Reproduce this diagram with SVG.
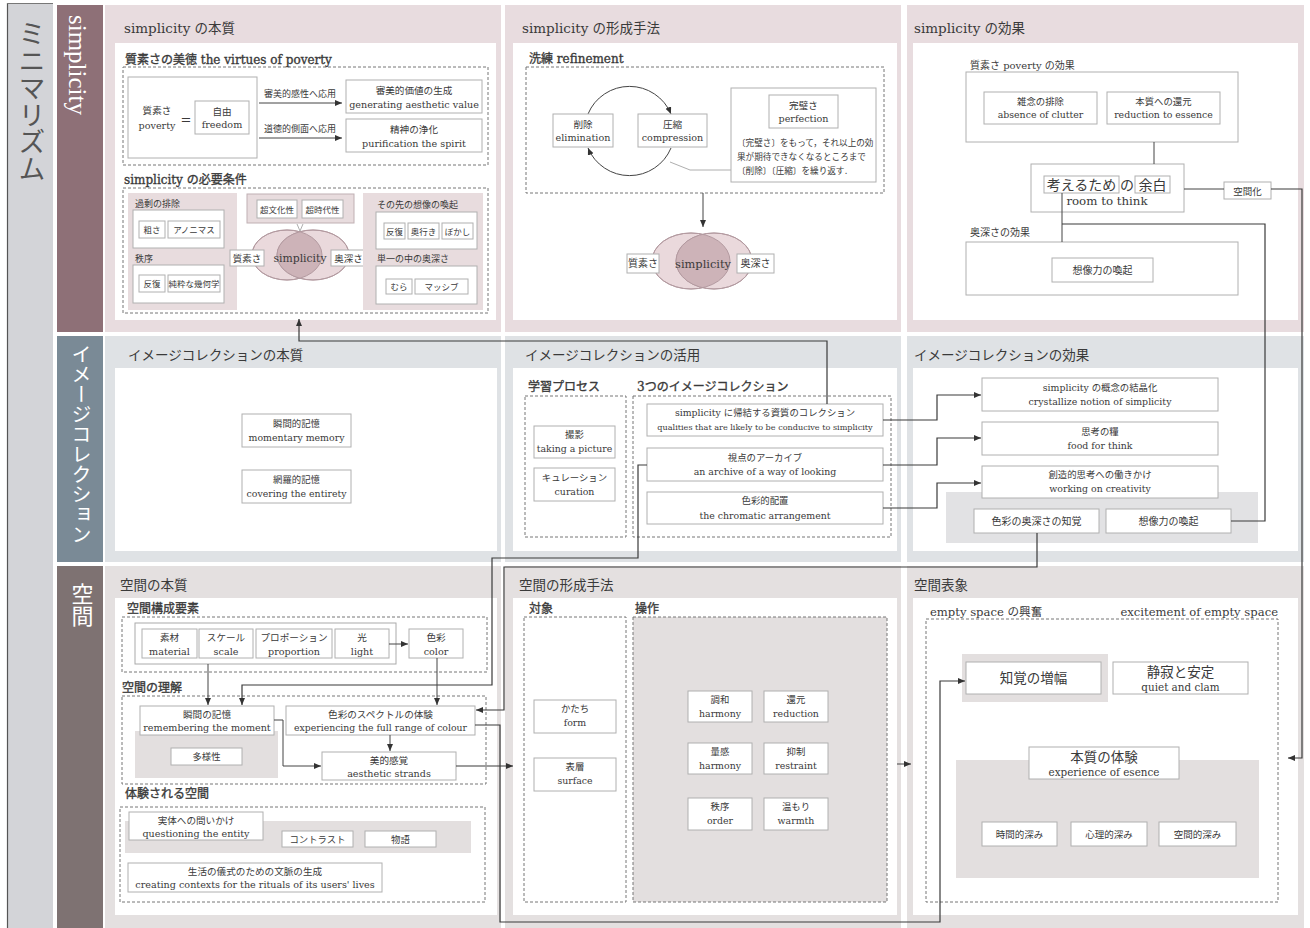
<svg xmlns="http://www.w3.org/2000/svg" width="1310" height="928" viewBox="0 0 1310 928">
<defs>
<style>
text{font-family:"DejaVu Serif","Noto Sans CJK JP",serif;fill:#3a3a3a}
.c{text-anchor:middle}
.b{fill:#fff;stroke:#b0b0b0;stroke-width:1}
.d{fill:none;stroke:#777;stroke-width:1;stroke-dasharray:3 2}
.g1{fill:#e8dcde}
.g2{fill:#e2e2e4}
.g3{fill:#e3dfdf}
.w{fill:#fff}
.con{fill:none;stroke:#3a3a3a;stroke-width:1.2}
.thin{fill:none;stroke:#444;stroke-width:1}
.h1{font-size:13.5px}
.h2{font-size:12px;stroke:#3a3a3a;stroke-width:0.35}
.s{font-size:9.4px}
.xs{font-size:9px}
.m{font-size:9.6px}
</style>
<marker id="ar" markerUnits="userSpaceOnUse" markerWidth="8" markerHeight="8" refX="7" refY="3" orient="auto"><path d="M0,0 L7,3 L0,6 z" fill="#333"/></marker>
<clipPath id="cl1"><ellipse cx="287" cy="255" rx="35" ry="25"/></clipPath>
<clipPath id="cl2"><ellipse cx="691" cy="261" rx="39" ry="28"/></clipPath>
</defs>
<rect width="1310" height="928" fill="#fff"/>

<g id="side">
<rect x="7" y="3" width="46" height="925" fill="#d3d4d8"/>
<line x1="7.5" y1="3" x2="7.5" y2="928" stroke="#555" stroke-width="1.2"/>
<line x1="7" y1="3.5" x2="53" y2="3.5" stroke="#777" stroke-width="1"/>
<text x="30" y="20" font-size="27" style="writing-mode:vertical-rl;fill:#555">ミニマリズム</text>
<rect x="57" y="5" width="46" height="327" fill="#8e7077"/>
<text transform="translate(69,15) rotate(90)" font-size="25" style="fill:#fff;font-family:'Liberation Serif',serif">simplicity</text>
<rect x="57" y="336" width="46" height="226" fill="#7a8a96"/>
<text x="80" y="344" font-size="20" style="writing-mode:vertical-rl;fill:#fff">イメージコレクション</text>
<rect x="57" y="566" width="46" height="362" fill="#7e7272"/>
<text x="80" y="583" font-size="22" style="writing-mode:vertical-rl;fill:#fff">空間</text>
</g>

<g id="panels">
<rect x="105" y="5" width="396" height="327" fill="#e8dcdf"/>
<rect x="505" y="5" width="396" height="327" fill="#e8dcdf"/>
<rect x="907" y="5" width="397" height="327" fill="#e8dcdf"/>
<rect x="105" y="336" width="396" height="226" fill="#dfe2e5"/>
<rect x="505" y="336" width="396" height="226" fill="#dfe2e5"/>
<rect x="907" y="336" width="397" height="226" fill="#dfe2e5"/>
<rect x="105" y="566" width="396" height="362" fill="#e4e0e0"/>
<rect x="505" y="566" width="396" height="362" fill="#e4e0e0"/>
<rect x="907" y="566" width="397" height="362" fill="#e4e0e0"/>
<rect x="115" y="43" width="381" height="277" class="w"/>
<rect x="513" y="43" width="384" height="277" class="w"/>
<rect x="913" y="43" width="385" height="277" class="w"/>
<rect x="115" y="368" width="382" height="183" class="w"/>
<rect x="513" y="368" width="384" height="183" class="w"/>
<rect x="913" y="368" width="385" height="183" class="w"/>
<rect x="115" y="598" width="382" height="317" class="w"/>
<rect x="513" y="598" width="384" height="317" class="w"/>
<rect x="913" y="598" width="385" height="317" class="w"/>
</g>

<g id="simplicity-essence">
<text x="124" y="33" class="h1">simplicity の本質</text>
<text x="125" y="64" class="h2">質素さの美徳 the virtues of poverty</text>
<rect x="123" y="67" width="365" height="98" class="d"/>
<rect x="128" y="77" width="129" height="81" class="b"/>
<text x="157" y="114" class="c m">質素さ</text>
<text x="157" y="129" class="c m">poverty</text>
<text x="186" y="124" class="c" font-size="13">=</text>
<rect x="195" y="101" width="54" height="33" class="b"/>
<text x="222" y="115" class="c m">自由</text>
<text x="222" y="128" class="c m">freedom</text>
<text x="300" y="97" class="c" font-size="9">審美的感性へ応用</text>
<text x="300" y="132" class="c" font-size="9">道徳的側面へ応用</text>
<rect x="346" y="80" width="136" height="33" class="b"/>
<text x="414" y="94" class="c m">審美的価値の生成</text>
<text x="414" y="108" class="c m">generating aesthetic value</text>
<rect x="346" y="119" width="136" height="33" class="b"/>
<text x="414" y="133" class="c m">精神の浄化</text>
<text x="414" y="147" class="c m">purification the spirit</text>

<text x="124" y="184" class="h2">simplicity の必要条件</text>
<rect x="123" y="188" width="365" height="125" class="d"/>
<rect x="128" y="193" width="109" height="117" class="g1"/>
<text x="135" y="207" class="xs">過剰の排除</text>
<rect x="133" y="210" width="91" height="38" class="b"/>
<rect x="139" y="221" width="26" height="17" class="b"/>
<text x="152" y="233" class="c" font-size="8.5">粗さ</text>
<rect x="168" y="221" width="52" height="17" class="b"/>
<text x="194" y="233" class="c" font-size="8.5">アノニマス</text>
<text x="135" y="262" class="xs">秩序</text>
<rect x="133" y="265" width="91" height="38" class="b"/>
<rect x="139" y="275" width="26" height="17" class="b"/>
<text x="152" y="287" class="c" font-size="8.5">反復</text>
<rect x="168" y="275" width="52" height="17" class="b"/>
<text x="194" y="287" class="c" font-size="8.5">純粋な幾何学</text>

<rect x="247" y="194" width="107" height="29" class="g1" stroke="#c0b0b3"/>
<rect x="257" y="200" width="40" height="18" class="b"/>
<text x="277" y="213" class="c" font-size="8.5">超文化性</text>
<rect x="302" y="200" width="41" height="18" class="b"/>
<text x="322.5" y="213" class="c" font-size="8.5">超時代性</text>
<polyline points="297,224 300,231 303,224" fill="none" stroke="#999" stroke-width="0.8"/>
<ellipse cx="287" cy="255" rx="35" ry="25" fill="#ead9dc" stroke="#b39aa0"/>
<ellipse cx="313" cy="255" rx="36" ry="25" fill="#ead9dc" stroke="#b39aa0"/>
<ellipse cx="313" cy="255" rx="36" ry="25" fill="#cdb3b8" clip-path="url(#cl1)"/>
<ellipse cx="287" cy="255" rx="35" ry="25" fill="none" stroke="#b39aa0"/>
<ellipse cx="313" cy="255" rx="36" ry="25" fill="none" stroke="#b39aa0"/>
<rect x="230" y="250" width="34" height="16" class="b"/>
<text x="247" y="262" class="c" font-size="9.5">質素さ</text>
<text x="300" y="262" class="c" font-size="10.8">simplicity</text>
<rect x="331" y="250" width="35" height="16" class="b"/>
<text x="348.5" y="262" class="c" font-size="9.5">奥深さ</text>

<rect x="363" y="193" width="120" height="117" class="g1"/>
<text x="377" y="208" class="xs">その先の想像の喚起</text>
<rect x="376" y="212" width="101" height="37" class="b"/>
<rect x="384" y="223" width="21" height="16" class="b"/>
<text x="394.5" y="235" class="c" font-size="8.5">反復</text>
<rect x="408" y="223" width="31" height="16" class="b"/>
<text x="423.5" y="235" class="c" font-size="8.5">奥行き</text>
<rect x="442" y="223" width="31" height="16" class="b"/>
<text x="457.5" y="235" class="c" font-size="8.5">ぼかし</text>
<text x="377" y="262" class="xs">単一の中の奥深さ</text>
<rect x="376" y="266" width="101" height="38" class="b"/>
<rect x="386" y="279" width="26" height="15" class="b"/>
<text x="399" y="290" class="c" font-size="8.5">むら</text>
<rect x="415" y="279" width="53" height="15" class="b"/>
<text x="441.5" y="290" class="c" font-size="8.5">マッシブ</text>
</g>

<g id="simplicity-method">
<text x="522" y="33" class="h1">simplicity の形成手法</text>
<text x="529" y="63" class="h2">洗練 refinement</text>
<rect x="526" y="67" width="358" height="126" class="d"/>
<path d="M588,114 A45,45 0 0 1 671,114" class="thin" marker-end="url(#ar)"/>
<path d="M671,148 A45,45 0 0 1 588,148" class="thin" marker-end="url(#ar)"/>
<rect x="553" y="114" width="60" height="33" class="b"/>
<text x="583" y="128" class="c m">削除</text>
<text x="583" y="141" class="c m">elimination</text>
<rect x="638" y="114" width="69" height="33" class="b"/>
<text x="672.5" y="128" class="c m">圧縮</text>
<text x="672.5" y="141" class="c m">compression</text>
<polyline points="670,162 690,170 731,170" fill="none" stroke="#999" stroke-width="0.8"/>
<rect x="731" y="88" width="145" height="94" class="b"/>
<rect x="769" y="95" width="69" height="33" class="b"/>
<text x="803.5" y="109" class="c m">完璧さ</text>
<text x="803.5" y="122" class="c m">perfection</text>
<text x="737" y="146" font-size="8.6">〔完璧さ〕をもって，それ以上の効</text>
<text x="737" y="160" font-size="8.6">果が期待できなくなるところまで</text>
<text x="737" y="174" font-size="8.6">〔削除〕〔圧縮〕を繰り返す．</text>
<ellipse cx="691" cy="261" rx="39" ry="28" fill="#ead9dc" stroke="#b39aa0"/>
<ellipse cx="714" cy="261" rx="38" ry="28" fill="#ead9dc" stroke="#b39aa0"/>
<ellipse cx="714" cy="261" rx="38" ry="28" fill="#cdb3b8" clip-path="url(#cl2)"/>
<ellipse cx="691" cy="261" rx="39" ry="28" fill="none" stroke="#b39aa0"/>
<ellipse cx="714" cy="261" rx="38" ry="28" fill="none" stroke="#b39aa0"/>
<rect x="627" y="254" width="32" height="19" class="b"/>
<text x="643" y="267" class="c" font-size="10">質素さ</text>
<text x="703" y="268" class="c" font-size="11.4">simplicity</text>
<rect x="737" y="254" width="37" height="19" class="b"/>
<text x="755.5" y="267" class="c" font-size="10">奥深さ</text>
</g>

<g id="simplicity-effect">
<text x="914" y="33" class="h1">simplicity の効果</text>
<text x="970" y="69" font-size="10">質素さ poverty の効果</text>
<rect x="966" y="72" width="272" height="70" class="b"/>
<rect x="984" y="92" width="113" height="32" class="b"/>
<text x="1040.5" y="105" class="c s">雑念の排除</text>
<text x="1040.5" y="118" class="c s">absence of clutter</text>
<rect x="1107" y="92" width="113" height="32" class="b"/>
<text x="1163.5" y="105" class="c s">本質への還元</text>
<text x="1163.5" y="118" class="c s">reduction to essence</text>
<rect x="1031" y="164" width="153" height="48" class="b"/>
<rect x="1044" y="176" width="75" height="17" class="b"/>
<text x="1081.5" y="190" class="c" font-size="14">考えるため</text>
<text x="1127" y="190" class="c" font-size="14">の</text>
<rect x="1135" y="176" width="35" height="17" class="b"/>
<text x="1152.5" y="190" class="c" font-size="14">余白</text>
<text x="1107" y="205" class="c" font-size="11.8">room to think</text>
<rect x="1224" y="182" width="47" height="17" class="b"/>
<text x="1247.5" y="194.5" class="c" font-size="9.5">空間化</text>
<text x="970" y="236" font-size="10">奥深さの効果</text>
<rect x="966" y="242" width="272" height="53" class="b"/>
<rect x="1052" y="258" width="101" height="24" class="b"/>
<text x="1102.5" y="274" class="c" font-size="10">想像力の喚起</text>
</g>

<g id="ic-essence">
<text x="128" y="360" class="h1">イメージコレクションの本質</text>
<rect x="242" y="414" width="109" height="33" class="b"/>
<text x="296.5" y="427" class="c s">瞬間的記憶</text>
<text x="296.5" y="441" class="c s">momentary memory</text>
<rect x="242" y="470" width="109" height="33" class="b"/>
<text x="296.5" y="483" class="c s">網羅的記憶</text>
<text x="296.5" y="497" class="c s">covering the entirety</text>
</g>

<g id="ic-use">
<text x="525" y="360" class="h1">イメージコレクションの活用</text>
<text x="528" y="391" class="h2">学習プロセス</text>
<text x="637" y="391" class="h2">3つのイメージコレクション</text>
<rect x="525" y="396" width="101" height="141" class="d"/>
<rect x="633" y="396" width="258" height="141" class="d"/>
<rect x="534" y="426" width="81" height="32" class="b"/>
<text x="574.5" y="438" class="c s">撮影</text>
<text x="574.5" y="452" class="c s">taking a picture</text>
<rect x="534" y="468" width="81" height="33" class="b"/>
<text x="574.5" y="481" class="c s">キュレーション</text>
<text x="574.5" y="495" class="c s">curation</text>
<rect x="647" y="404" width="236" height="32" class="b"/>
<text x="765" y="416" class="c s">simplicity に帰結する資質のコレクション</text>
<text x="765" y="430" class="c" font-size="8.1">qualities that are likely to be conducive to simplicity</text>
<rect x="647" y="448" width="236" height="33" class="b"/>
<text x="765" y="461" class="c s">視点のアーカイブ</text>
<text x="765" y="475" class="c s">an archive of a way of looking</text>
<rect x="647" y="492" width="236" height="32" class="b"/>
<text x="765" y="504" class="c s">色彩的配置</text>
<text x="765" y="519" class="c s">the chromatic arrangement</text>
</g>

<g id="ic-effect">
<text x="914" y="360" class="h1">イメージコレクションの効果</text>
<rect x="946" y="492" width="312" height="51" class="g2"/>
<rect x="982" y="378" width="236" height="33" class="b"/>
<text x="1100" y="391" class="c s">simplicity の概念の結晶化</text>
<text x="1100" y="405" class="c s">crystallize notion of simplicity</text>
<rect x="982" y="422" width="236" height="33" class="b"/>
<text x="1100" y="435" class="c s">思考の糧</text>
<text x="1100" y="449" class="c s">food for think</text>
<rect x="982" y="466" width="236" height="32" class="b"/>
<text x="1100" y="478" class="c s">創造的思考への働きかけ</text>
<text x="1100" y="492" class="c s">working on creativity</text>
<rect x="974" y="509" width="125" height="24" class="b"/>
<text x="1036.5" y="525" class="c" font-size="10">色彩の奥深さの知覚</text>
<rect x="1106" y="509" width="125" height="24" class="b"/>
<text x="1168.5" y="525" class="c" font-size="10">想像力の喚起</text>
</g>

<g id="space-essence">
<text x="120" y="590" class="h1">空間の本質</text>
<text x="127" y="613" class="h2">空間構成要素</text>
<rect x="122" y="617" width="365" height="55" class="d"/>
<rect x="135" y="623" width="261" height="41" fill="none" stroke="#aaa"/>
<rect x="142" y="629" width="55" height="29" class="b"/>
<text x="169.5" y="641" class="c m">素材</text>
<text x="169.5" y="655" class="c m">material</text>
<rect x="199" y="629" width="54" height="29" class="b"/>
<text x="226" y="641" class="c m">スケール</text>
<text x="226" y="655" class="c m">scale</text>
<rect x="256" y="629" width="76" height="29" class="b"/>
<text x="294" y="641" class="c m">プロポーション</text>
<text x="294" y="655" class="c m">proportion</text>
<rect x="335" y="629" width="54" height="29" class="b"/>
<text x="362" y="641" class="c m">光</text>
<text x="362" y="655" class="c m">light</text>
<rect x="409" y="629" width="54" height="29" class="b"/>
<text x="436" y="641" class="c m">色彩</text>
<text x="436" y="655" class="c m">color</text>
<text x="122" y="692" class="h2">空間の理解</text>
<rect x="122" y="696" width="364" height="88" class="d"/>
<rect x="135" y="731" width="143" height="47" class="g3"/>
<rect x="140" y="706" width="134" height="29" class="b"/>
<text x="207" y="718" class="c m">瞬間の記憶</text>
<text x="207" y="731" class="c m">remembering the moment</text>
<rect x="171" y="748" width="71" height="17" class="b"/>
<text x="206.5" y="760" class="c s">多様性</text>
<rect x="286" y="706" width="189" height="29" class="b"/>
<text x="380.5" y="718" class="c m">色彩のスペクトルの体験</text>
<text x="380.5" y="731" class="c" font-size="9.3">experiencing the full range of  colour</text>
<rect x="322" y="752" width="134" height="28" class="b"/>
<text x="389" y="764" class="c m">美的感覚</text>
<text x="389" y="777" class="c m">aesthetic strands</text>
<text x="125" y="798" class="h2">体験される空間</text>
<rect x="120" y="807" width="365" height="95" class="d"/>
<rect x="125" y="821" width="346" height="32" class="g3"/>
<rect x="129" y="812" width="134" height="28" class="b"/>
<text x="196" y="824" class="c m">実体への問いかけ</text>
<text x="196" y="837" class="c m">questioning the entity</text>
<rect x="282" y="831" width="71" height="16" class="b"/>
<text x="317.5" y="843" class="c s">コントラスト</text>
<rect x="365" y="831" width="71" height="16" class="b"/>
<text x="400.5" y="843" class="c s">物語</text>
<rect x="128" y="863" width="254" height="29" class="b"/>
<text x="255" y="875" class="c m">生活の儀式のための文脈の生成</text>
<text x="255" y="888" class="c m">creating contexts for the rituals of its users' lives</text>
</g>

<g id="space-method">
<text x="519" y="590" class="h1">空間の形成手法</text>
<text x="529" y="613" class="h2">対象</text>
<text x="635" y="613" class="h2">操作</text>
<rect x="524" y="617" width="102" height="285" class="d"/>
<rect x="633" y="617" width="254" height="285" class="g3"/>
<rect x="633" y="617" width="254" height="285" class="d"/>
<rect x="534" y="700" width="82" height="33" class="b"/>
<text x="575" y="712" class="c s">かたち</text>
<text x="575" y="726" class="c s">form</text>
<rect x="534" y="758" width="82" height="33" class="b"/>
<text x="575" y="770" class="c s">表層</text>
<text x="575" y="784" class="c s">surface</text>
<rect x="688" y="691" width="64" height="31" class="b"/>
<text x="720" y="703" class="c s">調和</text>
<text x="720" y="717" class="c s">harmony</text>
<rect x="764" y="691" width="64" height="31" class="b"/>
<text x="796" y="703" class="c s">還元</text>
<text x="796" y="717" class="c s">reduction</text>
<rect x="688" y="743" width="64" height="31" class="b"/>
<text x="720" y="755" class="c s">量感</text>
<text x="720" y="769" class="c s">harmony</text>
<rect x="764" y="743" width="64" height="31" class="b"/>
<text x="796" y="755" class="c s">抑制</text>
<text x="796" y="769" class="c s">restraint</text>
<rect x="688" y="798" width="64" height="32" class="b"/>
<text x="720" y="810" class="c s">秩序</text>
<text x="720" y="824" class="c s">order</text>
<rect x="764" y="798" width="64" height="32" class="b"/>
<text x="796" y="810" class="c s">温もり</text>
<text x="796" y="824" class="c s">warmth</text>
</g>

<g id="space-representation">
<text x="914" y="590" class="h1">空間表象</text>
<text x="930" y="616" font-size="11.6">empty space の興奮</text>
<text x="1278" y="616" font-size="11.6" text-anchor="end">excitement of empty space</text>
<rect x="926" y="619" width="352" height="283" class="d"/>
<rect x="962" y="654" width="146" height="48" class="g3"/>
<rect x="966" y="662" width="135" height="32" class="b"/>
<text x="1033.5" y="683" class="c" font-size="13.5">知覚の増幅</text>
<rect x="1113" y="662" width="135" height="32" class="b"/>
<text x="1180.5" y="677" class="c" font-size="13.5">静寂と安定</text>
<text x="1180.5" y="691" class="c" font-size="10.4">quiet and clam</text>
<rect x="956" y="760" width="303" height="118" class="g3"/>
<rect x="1029" y="747" width="150" height="32" class="b"/>
<text x="1104" y="762" class="c" font-size="13.5">本質の体験</text>
<text x="1104" y="776" class="c" font-size="10.4">experience of esence</text>
<rect x="982" y="822" width="75" height="24" class="b"/>
<text x="1019.5" y="838" class="c" font-size="9.5">時間的深み</text>
<rect x="1071" y="822" width="76" height="24" class="b"/>
<text x="1109" y="838" class="c" font-size="9.5">心理的深み</text>
<rect x="1159" y="822" width="77" height="24" class="b"/>
<text x="1197.5" y="838" class="c" font-size="9.5">空間的深み</text>
</g>

<g id="connectors">
<line x1="259" y1="103" x2="342" y2="103" class="thin" marker-end="url(#ar)"/>
<line x1="259" y1="138" x2="342" y2="138" class="thin" marker-end="url(#ar)"/>
<line x1="703" y1="193" x2="703" y2="227" class="thin" marker-end="url(#ar)"/>
<line x1="1154" y1="142" x2="1154" y2="164" class="thin" stroke="#555"/>
<line x1="1184" y1="189" x2="1224" y2="189" class="thin"/>
<path d="M1062,193 V242" class="thin"/>
<path d="M1062,224 H1265 V521 H1231" class="con"/>
<path d="M1271,189 H1302 V758 H1288" class="con" marker-end="url(#ar)"/>
<path d="M827,404 V341 H299 V319" class="con" marker-end="url(#ar)"/>
<path d="M883,420 H937 V395 H981" class="con" marker-end="url(#ar)"/>
<path d="M883,465 H937 V438 H981" class="con" marker-end="url(#ar)"/>
<path d="M883,508 H937 V483 H981" class="con" marker-end="url(#ar)"/>
<path d="M647,465 H638 V558 H492 V685 H242 V705" class="con" marker-end="url(#ar)"/>
<path d="M1037,533 V567 H504 V710 H476" class="con" marker-end="url(#ar)"/>
<path d="M475,725 H500 V922 H940 V681 H965" class="con" marker-end="url(#ar)"/>
<path d="M456,766 H513" class="con" marker-end="url(#ar)"/>
<path d="M897,764 H911" class="thin" marker-end="url(#ar)"/>
<line x1="389" y1="644" x2="408" y2="644" class="thin" marker-end="url(#ar)"/>
<line x1="208" y1="664" x2="208" y2="705" class="thin" marker-end="url(#ar)"/>
<line x1="437" y1="658" x2="437" y2="705" class="thin" marker-end="url(#ar)"/>
<line x1="390" y1="735" x2="390" y2="751" class="thin" marker-end="url(#ar)"/>
<path d="M274,720 H283 V766 H321" class="thin" marker-end="url(#ar)"/>
</g>
</svg>
